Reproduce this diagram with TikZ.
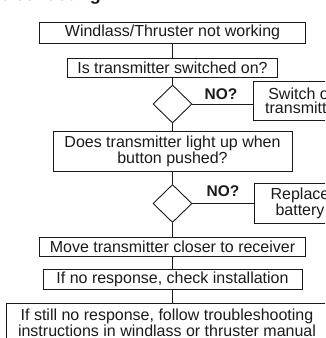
\documentclass[tikz,border=0pt]{standalone}
\usepackage{fontspec}
\setmainfont{Liberation Sans}
\usetikzlibrary{shapes.geometric}
\definecolor{ink}{HTML}{1A1A1A}
\begin{document}
\begin{tikzpicture}[x=1pt,y=-1pt,
  every node/.style={text=ink},
  box/.style={draw=ink, line width=0.9pt, inner sep=0pt, align=center,
    font=\fontsize{16}{16}\selectfont},
  sidebox/.style={box, font=\fontsize{16}{14}\selectfont},
  choice/.style={diamond, draw=ink, line width=0.9pt, inner sep=0pt,
    minimum width=39pt, minimum height=38pt},
  link/.style={draw=ink, line width=0.9pt},
  nolabel/.style={font=\bfseries\fontsize{15.5}{16}\selectfont,
    inner sep=0pt, anchor=base}]
\useasboundingbox (0,0) rectangle (325,338);
\clip (0,0) rectangle (325,338);

% section heading, running off the top edge
\node[font=\bfseries\fontsize{18}{18}\selectfont, anchor=base east, inner sep=0pt]
  (heading) at (101,0.5) {Troubleshooting};

% main column
\node[box, minimum width=266pt, minimum height=21pt] (start) at (172.5,32.5)
  {Windlass/Thruster not working};
\node[box, minimum width=210pt, minimum height=19pt] (ison) at (172.5,67.5)
  {Is transmitter switched on?};
\node[choice] (q1) at (172.5,104) {};
\node[box, minimum width=239pt, minimum height=40pt] (light) at (172.5,151)
  {Does transmitter light up when\\button pushed?};
\node[choice] (q2) at (172.5,203.5) {};
\node[box, minimum width=266pt, minimum height=19pt] (closer) at (172.5,246.5)
  {Move transmitter closer to receiver};
\node[box, minimum width=259pt, minimum height=20pt] (install) at (172.5,279)
  {If no response, check installation};
\node[sidebox, minimum width=322pt, minimum height=40pt] (manual) at (167,323)
  {If still no response, follow troubleshooting\\instructions in windlass or thruster manual};

% side actions
\node[sidebox, minimum width=100pt, minimum height=39pt] (switch) at (303,100.5)
  {Switch on\\transmitter};
\node[sidebox, minimum width=92pt, minimum height=40pt] (battery) at (300,203)
  {Replace\\battery};

% labels on the NO branches
\node[nolabel] (no1) at (221,99) {NO?};
\node[nolabel] (no2) at (223,196) {NO?};

% connectors
\draw[link] (start) -- (ison);
\draw[link] (ison) -- (q1);
\draw[link] (q1) -- (light);
\draw[link] (light) -- (q2);
\draw[link] (q2) -- (closer);
\draw[link] (closer) -- (install);
\draw[link] (install.south) -- (install.south |- manual.north);
\draw[link] (q1.east) -- (q1.east -| switch.west);
\draw[link] (q2.east) -- (q2.east -| battery.west);
\end{tikzpicture}
\end{document}
